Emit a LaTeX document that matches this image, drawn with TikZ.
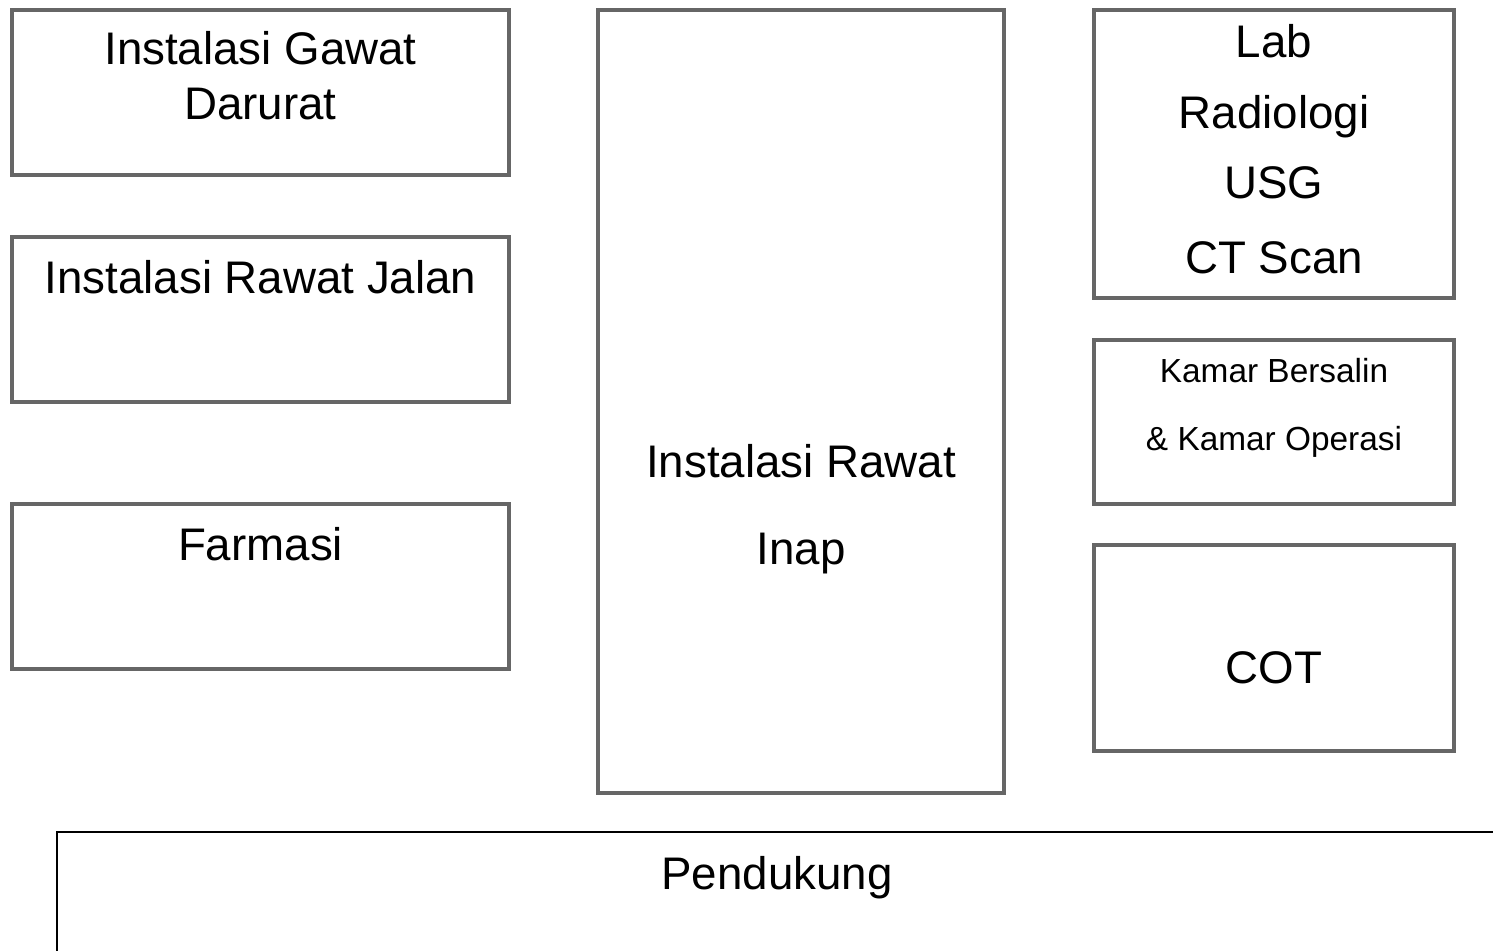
\documentclass[tikz,border=0pt]{standalone}
\usepackage{fontspec}
\setmainfont{Liberation Sans}
\usetikzlibrary{positioning}
\definecolor{boxgray}{HTML}{666666}

\begin{document}
\begin{tikzpicture}
	\tikzstyle{unit}=[draw=boxgray, line width=0.9pt, inner sep=0pt,
	                        outer sep=0pt, anchor=north west];
	\tikzstyle{lbl}=[anchor=base, font=\fontsize{13}{15}\selectfont, inner sep=0pt];
	\tikzstyle{small}=[anchor=base, font=\fontsize{9.5}{11}\selectfont, inner sep=0pt];
	\clip (0,0) rectangle (14.93,-9.51);
	% left column
	\node[unit, minimum width=4.97cm, minimum height=1.65cm] (igd) at (0.12,-0.10) {};
	\node[unit, minimum width=4.97cm, minimum height=1.65cm] (irj) at (0.12,-2.37) {};
	\node[unit, minimum width=4.97cm, minimum height=1.65cm] (farmasi) at (0.12,-5.04) {};
	% middle
	\node[unit, minimum width=4.06cm, minimum height=7.83cm] (inap) at (5.98,-0.10) {};
	% right column
	\node[unit, minimum width=3.60cm, minimum height=2.88cm] (penunjang) at (10.94,-0.10) {};
	\node[unit, minimum width=3.60cm, minimum height=1.64cm] (kamar) at (10.94,-3.40) {};
	\node[unit, minimum width=3.60cm, minimum height=2.06cm] (cot) at (10.94,-5.45) {};
	% bottom
	\node[unit, draw=black, line width=0.7pt, minimum width=15cm, minimum height=2cm] (pendukung) at (0.57,-8.32) {};
	\path
	(2.605,-0.65) node[lbl] (igd1) {Instalasi Gawat}
	(2.605,-1.20) node[lbl] (igd2) {Darurat}
	(2.605,-2.94) node[lbl] (irjtext) {Instalasi Rawat Jalan}
	(2.605,-5.61) node[lbl] (farmasitext) {Farmasi}
	(8.01,-4.78) node[lbl] (inap1) {Instalasi Rawat}
	(8.01,-5.65) node[lbl] (inap2) {Inap}
	(12.74,-0.58) node[lbl] (lab) {Lab}
	(12.74,-1.29) node[lbl] (radiologi) {Radiologi}
	(12.74,-1.99) node[lbl] (usg) {USG}
	(12.74,-2.74) node[lbl] (ctscan) {CT Scan}
	(12.74,-3.83) node[small] (kamar1) {Kamar Bersalin}
	(12.74,-4.51) node[small] (kamar2) {\& Kamar Operasi}
	(12.74,-6.84) node[lbl] (cottext) {COT}
	(7.77,-8.90) node[lbl] (pendukungtext) {Pendukung}
	;
\end{tikzpicture}
\end{document}
